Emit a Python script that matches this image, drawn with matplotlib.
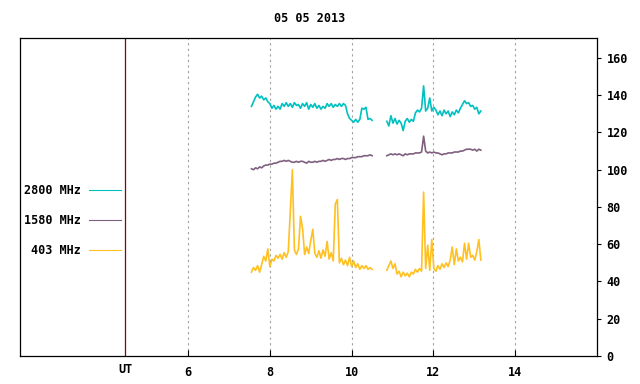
import numpy as np
import matplotlib
matplotlib.use("Agg")
import matplotlib.pyplot as plt

plt.rcParams['font.family'] = ['DejaVu Sans Mono']
plt.rcParams['font.weight'] = 'bold'
plt.rcParams['font.size'] = 8.5

title = "05 05 2013"

# time spans of the two observing blocks (UT hours)
seg1_start, seg1_end = 7.55, 10.50
seg2_start, seg2_end = 10.86, 13.16

# 2800 MHz
f2800_a = [134, 136.5, 139, 140.5, 138.5, 139.5, 137.5, 138.5, 136.5, 135.5,
           133, 134.5, 132.5, 134, 132.5, 135.5, 134, 136, 134, 135.5,
           133.5, 136, 134.5, 135, 133, 135.5, 134, 136, 132.5, 135,
           133.5, 135.5, 133, 134.5, 132.5, 134, 133, 135.5, 134, 135.5,
           133.5, 135, 134, 135.5, 134, 135.5, 134.5, 130, 127.5, 126.5,
           125.5, 127, 125.5, 127, 133, 132.5, 133.5, 127, 127.5, 126.5]
f2800_b = [126, 123.5, 129, 125, 127.5, 124.5, 126.5, 125, 121, 126,
           127.5, 125.5, 127, 126, 130.5, 132, 131, 133, 145, 131.5,
           133, 138.5, 131.5, 133.5, 132, 129.5, 131.5, 129, 132, 130,
           131.5, 128.5, 131, 129.5, 132, 130.5, 133, 135, 137, 135.5,
           136, 134, 134.5, 132.5, 133.5, 130, 131.5]

# 1580 MHz
f1580_a = [100.5, 100, 101, 100.5, 101.5, 101, 102, 102.5, 102.5, 103,
           103, 103.5, 103.5, 104, 104.5, 104.5, 105, 104.5, 105, 104.5,
           104, 104, 104.5, 104, 104.5, 104.5, 104, 103.5, 104.5, 104,
           104, 104.5, 104, 104.5, 104.5, 105, 104.5, 105, 105.5, 105,
           105.5, 105.5, 106, 105.5, 106, 106, 105.5, 106, 106, 106.5,
           106.5, 106.5, 107, 107, 107, 107.5, 107.5, 107.5, 108, 107.5]
f1580_b = [107.5, 108, 108.5, 108, 108.5, 108, 108.5, 108, 107.5, 108.5,
           108, 108.5, 108.5, 108.5, 109, 109, 109, 109.5, 118, 110,
           109, 109.5, 109, 109.5, 109, 109, 108.5, 108, 108.5, 108.5,
           109, 109, 109, 109.5, 109.5, 109.5, 110, 110, 110.5, 111,
           111, 111, 110.5, 111, 110, 111, 110.5]

# 403 MHz
f403_a = [45, 47.5, 46, 48.5, 45, 49, 53.5, 51, 57.5, 48,
          52, 51, 54, 52.5, 54.5, 52, 55.5, 53, 56, 77.5,
          100, 57, 54.5, 57.5, 75, 68.5, 54.5, 58.5, 55, 62,
          68, 55, 53, 56.5, 52.5, 57, 53.5, 61.5, 52, 55.5,
          51, 81.5, 84, 50, 52.5, 49, 51.5, 48.5, 53, 48,
          51, 47.5, 49.5, 46.5, 48.5, 47, 48.5, 46.5, 47.5, 46.5]
f403_b = [46, 48.5, 51, 47, 49.5, 44, 45.5, 42.5, 45, 43,
          44.5, 42.5, 45, 44, 46.5, 45, 47, 45.5, 88, 47,
          59.5, 46, 62.5, 47, 45.5, 48.5, 46.5, 49.5, 47.5, 50,
          48, 51.5, 58.5, 49, 57.5, 51, 53, 50.5, 60.5, 52,
          60.5, 53, 54, 51.5, 56, 62.5, 51.5]

series = [
    ("2800 MHz", "#00c0c0", f2800_a, f2800_b),
    ("1580 MHz", "#7f5f7f", f1580_a, f1580_b),
    ("403 MHz", "#ffc020", f403_a, f403_b),
]

xticks = [6, 8, 10, 12, 14]
yticks = [0, 20, 40, 60, 80, 100, 120, 140, 160]
ut_pos = 4.46

fig = plt.figure(figsize=(6.4, 3.84), dpi=100)
ax = fig.add_axes([20 / 640, 28 / 384, 577 / 640, 318 / 384])

for name, col, a, b in series:
    ta = np.linspace(seg1_start, seg1_end, len(a))
    tb = np.linspace(seg2_start, seg2_end, len(b))
    ax.plot(ta, a, color=col, lw=1.2, label=name)
    ax.plot(tb, b, color=col, lw=1.2)

for x in xticks:
    ax.axvline(x, color="#a0a0a0", lw=0.8, ls=(0, (2, 3)), zorder=0)
ax.axvline(ut_pos, color="#8b0000", lw=0.9)

ax.set_xlim(1.89, 16.0)
ax.set_ylim(0, 170.7)
ax.set_xticks(xticks)
ax.tick_params(axis='x', direction='in', length=4, width=0.8, pad=7)
ax.yaxis.tick_right()
ax.set_yticks(yticks)
ax.tick_params(axis='y', direction='out', length=3, width=0.8, pad=4)
ax.text(ut_pos, -0.022, "UT", transform=ax.get_xaxis_transform(),
        ha='center', va='top')

for s in ax.spines.values():
    s.set_linewidth(0.9)

fig.text(310 / 640, 1 - 18 / 384, title, ha='center', va='center')

leg = ax.legend(loc='upper right', bbox_to_anchor=(121 / 640, 1 - 184 / 384),
                bbox_transform=fig.transFigure, frameon=False, markerfirst=False,
                handlelength=2.7, handletextpad=0.7, labelspacing=1.45,
                borderpad=0, borderaxespad=0)
for h in leg.get_lines():
    h.set_linewidth(0.8)

fig.savefig("out.png", dpi=100)
